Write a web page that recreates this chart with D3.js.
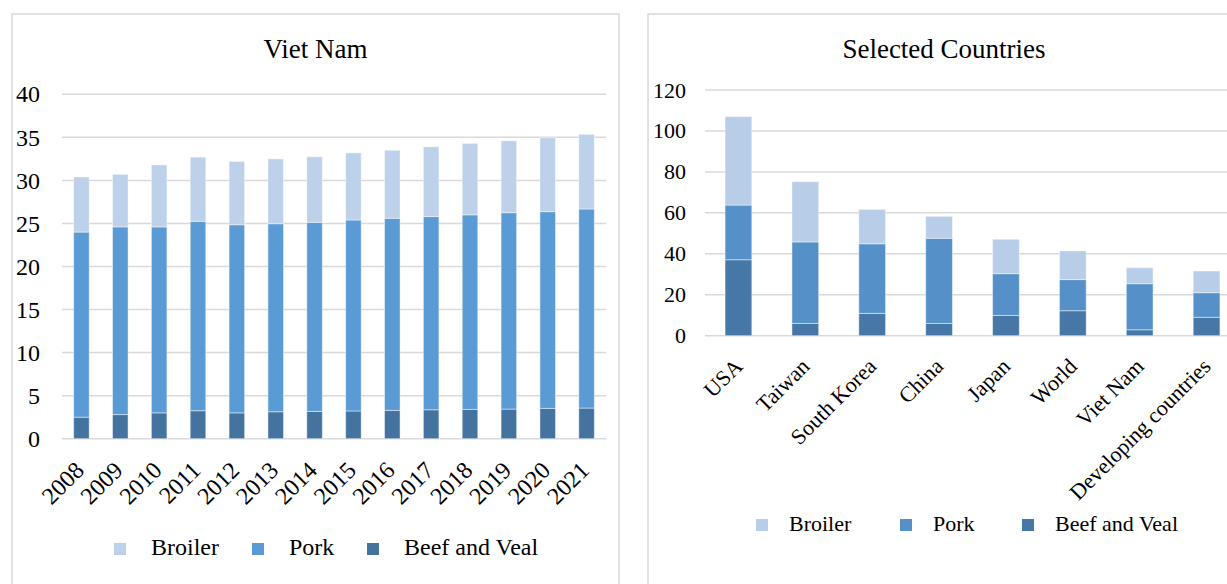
<!DOCTYPE html>
<html>
<head>
<meta charset="utf-8">
<script src="https://cdn.jsdelivr.net/npm/d3@7/dist/d3.min.js"></script>
<style>
  html, body { margin: 0; padding: 0; background: #ffffff; }
  svg { display: block; }
  text { font-family: "Liberation Serif", "Times New Roman", serif; fill: #000; }
</style>
</head>
<body>
<svg id="chart" width="1227" height="584"></svg>
<script>
// Per-capita meat consumption, by meat type
const seriesNames = ["Broiler", "Pork", "Beef and Veal"];

// Viet Nam, 2008-2021
const years = ["2008", "2009", "2010", "2011", "2012", "2013", "2014",
               "2015", "2016", "2017", "2018", "2019", "2020", "2021"];
const vnBeef    = [2.5, 2.8, 3.0, 3.25, 3.0, 3.13, 3.17, 3.22, 3.29, 3.36, 3.4, 3.44, 3.52, 3.56];
const vnPork    = [21.5, 21.8, 21.6, 22.0, 21.85, 21.84, 21.96, 22.18, 22.31, 22.44, 22.6, 22.81, 22.85, 23.12];
const vnBroiler = [6.4, 6.1, 7.2, 7.45, 7.35, 7.53, 7.62, 7.8, 7.9, 8.1, 8.3, 8.35, 8.58, 8.67];
const vnTicks   = [0, 5, 10, 15, 20, 25, 30, 35, 40];

// Selected countries
const countries = ["USA", "Taiwan", "South Korea", "China", "Japan", "World", "Viet Nam", "Developing countries"];
const ctBeef    = [37.1, 6.0, 10.9, 6.0, 9.9, 12.2, 2.9, 9.0];
const ctPork    = [26.7, 39.8, 34.0, 41.6, 20.4, 15.2, 22.5, 12.0];
const ctBroiler = [43.2, 29.4, 16.8, 10.7, 16.8, 14.0, 7.8, 10.6];
const ctTicks   = [0, 20, 40, 60, 80, 100, 120];

const svg = d3.select("#chart");
const grid = "#d9d9d9";

function panel(cfg) {
  const g = svg.append("g");

  // frame
  g.append("rect")
    .attr("x", cfg.frame[0]).attr("y", cfg.frame[1])
    .attr("width", cfg.frame[2]).attr("height", cfg.frame[3])
    .attr("fill", "none").attr("stroke", grid).attr("stroke-width", 1.5);

  // title
  g.append("text")
    .attr("x", cfg.titleX).attr("y", 58)
    .attr("text-anchor", "middle")
    .attr("font-size", 27)
    .text(cfg.title);

  const x = d3.scaleBand()
    .domain(cfg.cats)
    .range([cfg.left, cfg.right])
    .paddingInner(0.6).paddingOuter(0.3);

  const y = d3.scaleLinear()
    .domain([0, d3.max(cfg.ticks)])
    .range([cfg.bottom, cfg.top]);

  // gridlines
  g.append("g").selectAll("line")
    .data(cfg.ticks)
    .join("line")
    .attr("x1", cfg.left).attr("x2", cfg.gridRight)
    .attr("y1", d => y(d)).attr("y2", d => y(d))
    .attr("stroke", grid).attr("stroke-width", 1.5);

  // y axis labels
  const yAxis = d3.axisLeft(y).tickValues(cfg.ticks).tickSize(0).tickPadding(cfg.yPad);
  const ya = g.append("g").attr("transform", `translate(${cfg.left},0)`).call(yAxis);
  ya.select(".domain").remove();
  ya.selectAll("text")
    .attr("font-size", cfg.fs)
    .attr("font-family", "Liberation Serif, Times New Roman, serif")
    .attr("fill", "#000");

  // stacked bars
  const table = cfg.cats.map((c, i) => ({
    cat: c, beef: cfg.beef[i], pork: cfg.pork[i], broiler: cfg.broiler[i]
  }));
  const keys = ["beef", "pork", "broiler"];
  const stacked = d3.stack().keys(keys)(table);
  const color = d3.scaleOrdinal().domain(keys).range(cfg.colors);

  g.append("g").selectAll("g")
    .data(stacked)
    .join("g")
    .attr("fill", d => color(d.key))
    .selectAll("rect")
    .data(d => d)
    .join("rect")
    .attr("x", d => x(d.data.cat))
    .attr("width", x.bandwidth())
    .attr("y", d => y(d[1]))
    .attr("height", d => y(d[0]) - y(d[1]))
    .attr("stroke", "rgba(255,255,255,0.45)")
    .attr("stroke-width", 1);

  // category labels, rotated
  const xAxis = d3.axisBottom(x).tickSize(0).tickPadding(0);
  const xa = g.append("g").attr("transform", `translate(0,${cfg.bottom})`).call(xAxis);
  xa.select(".domain").remove();
  xa.selectAll("text")
    .attr("font-size", cfg.fs)
    .attr("font-family", "Liberation Serif, Times New Roman, serif")
    .attr("fill", "#000")
    .attr("text-anchor", "end")
    .attr("dy", null)
    .attr("y", 0)
    .attr("transform", `translate(${cfg.lblDx},${cfg.lblDy}) rotate(-45)`);

  // legend
  const legendNames = seriesNames;
  const legendColors = [color("broiler"), color("pork"), color("beef")];
  const lg = g.append("g");
  legendNames.forEach((name, i) => {
    lg.append("rect")
      .attr("x", cfg.legend.sw[i]).attr("y", cfg.legend.y - 12)
      .attr("width", 12).attr("height", 12)
      .attr("fill", legendColors[i]);
    lg.append("text")
      .attr("x", cfg.legend.tx[i]).attr("y", cfg.legend.y)
      .attr("font-size", cfg.fs)
      .text(name);
  });
}

panel({
  title: "Viet Nam", titleX: 315.5,
  frame: [12, 14, 607, 600],
  cats: years, beef: vnBeef, pork: vnPork, broiler: vnBroiler, ticks: vnTicks,
  left: 62, right: 606, gridRight: 606, top: 94.3, bottom: 438.7,
  fs: 24, yPad: 22, lblDx: 4, lblDy: 33,
  colors: ["#44739f", "#5b9bd5", "#bdd1ea"],
  legend: { y: 555, sw: [114, 252, 367], tx: [151, 289, 404] }
});

panel({
  title: "Selected Countries", titleX: 944,
  frame: [648, 14, 620, 600],
  cats: countries, beef: ctBeef, pork: ctPork, broiler: ctBroiler, ticks: ctTicks,
  left: 705, right: 1240, gridRight: 1240, top: 90, bottom: 335.7,
  fs: 22, yPad: 19, lblDx: 5.5, lblDy: 32,
  colors: ["#4677a7", "#5591c8", "#b8cde8"],
  legend: { y: 531, sw: [756, 900, 1022], tx: [789, 933, 1055] }
});
</script>
</body>
</html>
